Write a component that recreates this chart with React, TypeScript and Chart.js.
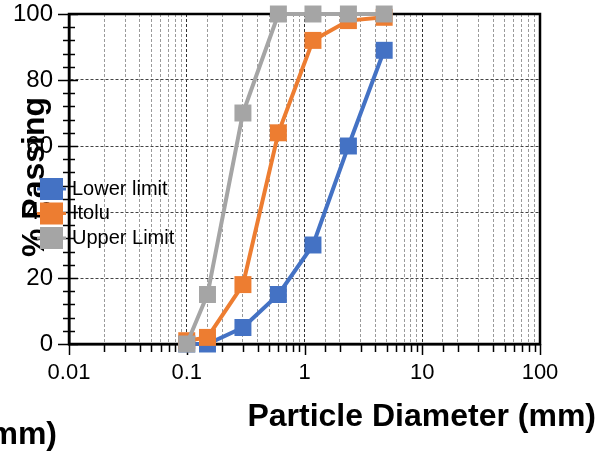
import React, { useEffect, useRef } from 'react';
import { Chart, registerables } from 'chart.js';

Chart.register(...registerables);

const sieveSizes = [0.1, 0.15, 0.3, 0.6, 1.18, 2.36, 4.75];
const lowerLimit = [0, 0, 5, 15, 30, 60, 89];
const itolu = [1, 2, 18, 64, 92, 98, 99];
const upperLimit = [0, 15, 70, 100, 100, 100, 100];
const seriesNames = ['Lower limit', 'Itolu', 'Upper Limit'];
const seriesColors = ['#4472C4', '#ED7D31', '#A5A5A5'];
const xTickLabels = ['0.01', '0.1', '1', '10', '100'];
const yTickLabels = ['0', '20', '40', '60', '80', '100'];
const xTitle = 'Particle Diameter (mm)';
const yTitle = '% Passing';

const FONT = "'Liberation Sans', Arial, sans-serif";

const isMajor = (v: number) => {
  const l = Math.log10(v);
  return Math.abs(l - Math.round(l)) < 1e-6;
};

const decorPlugin = {
  id: 'decor',
  beforeDatasetsDraw(chart: any) {
    const { ctx, chartArea: a } = chart;
    const x = chart.scales.x;
    const y = chart.scales.y;
    ctx.save();
    ctx.strokeStyle = '#000';
    ctx.lineWidth = 2.5;
    ctx.setLineDash([]);
    ctx.strokeRect(a.left, a.top, a.right - a.left, a.bottom - a.top);
    ctx.lineWidth = 1.5;
    y.ticks.forEach((t: any) => {
      const py = Math.round(y.getPixelForValue(t.value)) + 0.5;
      const major = yTickLabels.includes(String(t.value));
      ctx.beginPath();
      ctx.moveTo(a.left - (major ? 11 : 6), py);
      ctx.lineTo(a.left + (major ? 9 : 6), py);
      ctx.stroke();
    });
    x.ticks.forEach((t: any) => {
      const px = Math.round(x.getPixelForValue(t.value)) + 0.5;
      const major = isMajor(t.value);
      ctx.beginPath();
      ctx.moveTo(px, a.bottom);
      ctx.lineTo(px, a.bottom + (major ? 11 : 8));
      ctx.stroke();
    });
    ctx.restore();
  },
  afterDraw(chart: any) {
    const { ctx } = chart;
    ctx.save();
    ctx.fillStyle = '#000';
    ctx.font = `bold 32px ${FONT}`;
    ctx.textBaseline = 'alphabetic';
    ctx.textAlign = 'right';
    ctx.fillText(xTitle, 596, 426);
    ctx.fillText(xTitle, 57, 444);
    ctx.save();
    ctx.translate(44, 177);
    ctx.rotate(-Math.PI / 2);
    ctx.textAlign = 'center';
    ctx.fillText(yTitle, 0, 0);
    ctx.restore();
    const ds = chart.data.datasets;
    ctx.font = `20px ${FONT}`;
    ctx.textAlign = 'left';
    ctx.textBaseline = 'middle';
    seriesNames.forEach((name, i) => {
      const cy = 189 + i * 24.5;
      const color = ds[i].borderColor;
      ctx.strokeStyle = color;
      ctx.lineWidth = 3;
      ctx.beginPath();
      ctx.moveTo(37, cy);
      ctx.lineTo(66, cy);
      ctx.stroke();
      ctx.fillStyle = color;
      ctx.fillRect(40, cy - 11, 23, 22);
      ctx.fillStyle = '#000';
      ctx.fillText(name, 72, cy);
    });
    ctx.restore();
  },
};

export default function App() {
  const ref = useRef<HTMLCanvasElement>(null);
  useEffect(() => {
    if (!ref.current) return;
    Chart.defaults.font.family = FONT;
    Chart.defaults.color = '#000';
    const series = [lowerLimit, itolu, upperLimit];
    const chart = new Chart(ref.current, {
      type: 'line',
      data: {
        datasets: series.map((vals, i) => ({
          label: seriesNames[i],
          data: sieveSizes.map((s, j) => ({ x: s, y: vals[j] })),
          borderColor: seriesColors[i],
          backgroundColor: seriesColors[i],
          borderWidth: 4,
          pointStyle: 'rect',
          pointRadius: 12,
          pointBorderWidth: 0,
          pointBackgroundColor: seriesColors[i],
          clip: false as any,
          order: 2 - i,
        })),
      },
      options: {
        animation: false,
        responsive: false,
        events: [],
        layout: { padding: { left: 0, top: 14, right: 58, bottom: 0 } },
        plugins: { legend: { display: false }, tooltip: { enabled: false } },
        scales: {
          x: {
            type: 'logarithmic',
            min: 0.01,
            max: 100,
            afterFit: (s: any) => {
              s.height = 108;
              s.paddingLeft = 0;
              s.paddingRight = 0;
            },
            border: { display: true, color: '#000', width: 2.5, dash: [3, 2] },
            grid: {
              drawTicks: false,
              lineWidth: 1,
              color: (c: any) => (c.tick && isMajor(c.tick.value) ? '#333' : '#9a9a9a'),
            },
            ticks: {
              autoSkip: false,
              maxRotation: 0,
              padding: 16,
              font: { size: 22 },
              color: '#000',
              callback: (v: any) => {
                const n = Number(v);
                const lab = xTickLabels.find((l) => Math.abs(Number(l) - n) / Number(l) < 1e-6);
                return lab ?? '';
              },
            },
          },
          y: {
            type: 'linear',
            min: 0,
            max: 100,
            afterFit: (s: any) => {
              s.width = 69;
              s.paddingTop = 0;
              s.paddingBottom = 0;
            },
            border: { display: true, color: '#000', width: 2.5, dash: [3, 2] },
            grid: {
              drawTicks: false,
              lineWidth: 1,
              color: (c: any) => (c.tick && yTickLabels.includes(String(c.tick.value)) ? '#444' : 'rgba(0,0,0,0)'),
            },
            ticks: {
              stepSize: 4,
              autoSkip: false,
              padding: 16,
              font: { size: 24 },
              color: '#000',
              callback: (v: any) => (yTickLabels.includes(String(v)) ? String(v) : ''),
            },
          },
        },
      },
      plugins: [decorPlugin],
    });
    return () => chart.destroy();
  }, []);
  return (
    <div style={{ position: 'fixed', left: 0, top: 0, width: 598, height: 452, background: '#fff' }}>
      <canvas ref={ref} width={598} height={452} />
    </div>
  );
}
